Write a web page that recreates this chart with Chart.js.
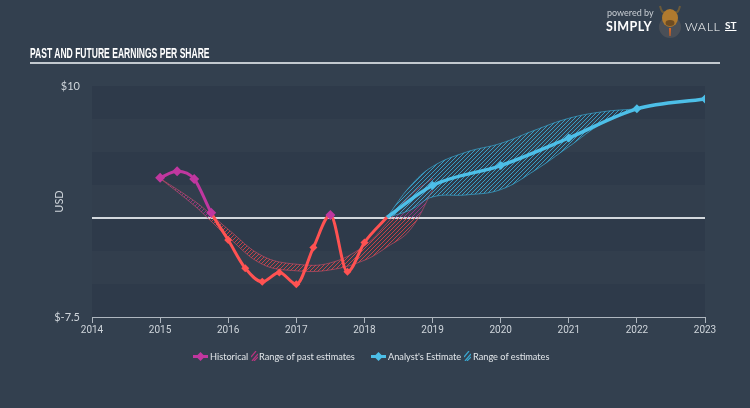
<!DOCTYPE html>
<html>
<head>
<meta charset="utf-8">
<script src="https://cdn.jsdelivr.net/npm/chart.js@4.4.1/dist/chart.umd.min.js"></script>
<style>
html, body { margin: 0; padding: 0; }
body { width: 750px; height: 408px; background: #33404f; position: relative; overflow: hidden; font-family: Lato, sans-serif; }
#chart { position: absolute; left: 0; top: 0; }
.title { position: absolute; left: 30px; top: 44px; font-family: "Liberation Sans Narrow", sans-serif; font-weight: bold; font-size: 15px; color: #fff; transform: scaleX(0.57); transform-origin: left top; white-space: nowrap; }
.rule { position: absolute; left: 30px; top: 62px; width: 690px; height: 2px; background: #c3c9cf; }
.logo { position: absolute; color: #fff; white-space: nowrap; }
.lg { position: absolute; top: 349px; height: 15px; line-height: 15px; font-size: 9.2px; color: #e2e6ea; white-space: nowrap; }
.lg svg { position: absolute; top: 2px; }
</style>
</head>
<body>
<canvas id="chart" width="750" height="408"></canvas>

<div class="title">PAST AND FUTURE EARNINGS PER SHARE</div>
<div class="rule"></div>

<div class="logo" style="left:607px;top:7px;font-size:9px;color:#c9ced4;">powered by</div>
<div class="logo" style="left:606px;top:19px;font-size:12.5px;font-weight:bold;letter-spacing:0.4px;">SIMPLY</div>
<svg class="logo" style="left:656px;top:2px" width="28" height="36" viewBox="0 0 28 36">
  <circle cx="14" cy="25" r="11" fill="#4a4f57"/>
  <path d="M4 4 Q6 12 9 10 M24 4 Q22 12 19 10" stroke="#6b5a3a" stroke-width="2" fill="none"/>
  <ellipse cx="14" cy="16" rx="8" ry="9" fill="#b07a2e"/>
  <ellipse cx="14" cy="21" rx="4.5" ry="3" fill="#6e4c22"/>
  <path d="M13 26 L15 26 L14.5 34 L13.5 34 Z" fill="#e0641e"/>
</svg>
<div class="logo" style="left:685px;top:19px;font-size:12.5px;font-weight:300;letter-spacing:0.6px;">WALL</div>
<div class="logo" style="left:725px;top:19px;font-size:10px;font-weight:bold;text-decoration:underline;">ST</div>

<div class="lg" style="left:193px;width:60px">
  <svg width="15" height="11" viewBox="0 0 15 11"><line x1="0" y1="5.5" x2="15" y2="5.5" stroke="#c0379f" stroke-width="3"/><polygon points="7.5,1 12,5.5 7.5,10 3,5.5" fill="#c0379f"/></svg>
  <span style="position:absolute;left:17px">Historical</span>
</div>
<div class="lg" style="left:251px;width:110px">
  <svg width="7" height="10" viewBox="0 0 7 10"><path d="M0 6 L5 0 M1 10 L7 3 M3 10 L7 6" stroke="#b8357f" stroke-width="1.2"/></svg>
  <span style="position:absolute;left:8px">Range of past estimates</span>
</div>
<div class="lg" style="left:371px;width:90px">
  <svg width="15" height="11" viewBox="0 0 15 11"><line x1="0" y1="5.5" x2="15" y2="5.5" stroke="#4dbfe8" stroke-width="3"/><polygon points="7.5,1 12,5.5 7.5,10 3,5.5" fill="#4dbfe8"/></svg>
  <span style="position:absolute;left:17px">Analyst's Estimate</span>
</div>
<div class="lg" style="left:464px;width:90px">
  <svg width="7" height="10" viewBox="0 0 7 10"><path d="M0 6 L5 0 M1 10 L7 3 M3 10 L7 6" stroke="#3aa6cf" stroke-width="1.2"/></svg>
  <span style="position:absolute;left:9px">Range of estimates</span>
</div>

<script>
// earnings per share, USD
var histYears = [2015, 2015.25, 2015.5, 2015.75, 2016, 2016.25, 2016.5, 2016.75, 2017, 2017.25, 2017.5, 2017.75, 2018, 2018.33];
var histEps = [3.04, 3.54, 2.96, 0.40, -1.67, -3.80, -4.83, -4.13, -5.01, -2.24, 0.22, -4.08, -1.86, 0.05];

var estYears = [2018.33, 2019, 2020, 2021, 2022, 2023];
var estEps = [0.05, 2.46, 3.97, 6.06, 8.27, 9.02];

var pastRangeYears = [2015, 2015.5, 2015.75, 2016, 2016.5, 2017, 2017.5, 2018, 2018.33, 2018.67, 2019];
var pastRangeHigh = [3.0, 1.3, 0.25, -0.86, -2.87, -3.5, -3.4, -2.1, -0.4, 1.7, 3.0];
var pastRangeLow = [3.0, 0.95, -0.25, -1.46, -3.5, -4.0, -3.93, -3.2, -2.2, -0.9, 2.1];

var estRangeYears = [2018.33, 2018.67, 2019, 2019.5, 2020, 2020.5, 2021, 2021.5, 2022];
var estRangeHigh = [0.05, 2.4, 3.9, 5.0, 5.65, 6.65, 7.55, 8.05, 8.27];
var estRangeLow = [0.05, 0.6, 1.6, 1.75, 2.15, 3.6, 5.4, 7.2, 8.27];

var MAGENTA = "#c0379f";
var RED = "#ff5252";
var BLUE = "#4dbfe8";
var TICK_COLOR = "#cfd5db";

function points(xs, ys) {
	return xs.map(function (x, i) { return { x: x, y: ys[i] }; });
}

var zeroPx = 218;
var pastPattern = null;
var pastPatternZero = null;

// hatch above zero is magenta, below zero red
function pastHatch() {
	if (pastPattern && pastPatternZero === zeroPx) return pastPattern;
	var c = document.createElement("canvas");
	c.width = 4;
	c.height = 408;
	var g = c.getContext("2d");
	for (var y = 0; y < c.height; y++) {
		g.fillStyle = y < zeroPx ? "rgba(176,52,150,0.75)" : "rgba(235,70,70,0.8)";
		for (var x = 0; x < 4; x++) {
			if ((x + y) % 4 === 0) g.fillRect(x, y, 1, 1);
		}
	}
	pastPattern = g.createPattern(c, "repeat");
	pastPatternZero = zeroPx;
	return pastPattern;
}

function blueHatch() {
	var c = document.createElement("canvas");
	c.width = 4;
	c.height = 4;
	var g = c.getContext("2d");
	g.fillStyle = "rgba(58,168,210,0.9)";
	for (var y = 0; y < 4; y++) {
		for (var x = 0; x < 4; x++) {
			if ((x + y) % 4 === 0) g.fillRect(x, y, 1, 1);
		}
	}
	return g.createPattern(c, "repeat");
}

var bandsPlugin = {
	id: "bands",
	afterLayout: function (chart) {
		zeroPx = chart.scales.y.getPixelForValue(0);
	},
	beforeDraw: function (chart) {
		var ctx = chart.ctx;
		var area = chart.chartArea;
		var y = chart.scales.y;
		ctx.save();
		for (var i = 0, v = 10; v > -7.5; v -= 2.5, i++) {
			var top = y.getPixelForValue(v);
			var bottom = y.getPixelForValue(v - 2.5);
			ctx.fillStyle = i % 2 === 0 ? "rgba(20,30,45,0.15)" : "rgba(20,30,45,0.04)";
			ctx.fillRect(area.left, top, area.right - area.left, bottom - top);
		}
		ctx.restore();
	}
};

var ctx = document.getElementById("chart").getContext("2d");
new Chart(ctx, {
	type: "line",
	data: {
		datasets: [
			{
				label: "Historical",
				data: points(histYears, histEps),
				borderColor: RED,
				borderWidth: 3,
				cubicInterpolationMode: "monotone",
				segment: {
					borderColor: function (c) {
						return c.p0.parsed.y >= 0 && c.p1.parsed.y >= 0 ? MAGENTA : RED;
					}
				},
				pointStyle: "rectRot",
				pointRadius: function (c) {
					if (c.dataIndex === histEps.length - 1) return 0;
					return c.parsed.y >= 0 ? 5 : 4;
				},
				pointBackgroundColor: function (c) {
					return c.parsed.y >= 0 ? MAGENTA : RED;
				},
				pointBorderWidth: 0,
				fill: false,
				order: 0
			},
			{
				label: "Analyst's Estimate",
				data: points(estYears, estEps),
				borderColor: BLUE,
				borderWidth: 3.5,
				cubicInterpolationMode: "monotone",
				pointStyle: "rectRot",
				pointRadius: function (c) { return c.dataIndex === 0 ? 0 : 4.5; },
				pointBackgroundColor: BLUE,
				pointBorderWidth: 0,
				fill: false,
				order: 0
			},
			{
				label: "Range of past estimates",
				data: points(pastRangeYears, pastRangeHigh),
				borderColor: "rgba(230,80,110,0.55)",
				borderWidth: 1,
				tension: 0.4,
				pointRadius: 0,
				backgroundColor: function () { return pastHatch(); },
				fill: "+1",
				order: 2
			},
			{
				label: "past low",
				data: points(pastRangeYears, pastRangeLow),
				borderColor: "rgba(230,80,110,0.55)",
				borderWidth: 1,
				tension: 0.4,
				pointRadius: 0,
				fill: false,
				order: 2
			},
			{
				label: "Range of estimates",
				data: points(estRangeYears, estRangeHigh),
				borderColor: "rgba(58,168,210,0.7)",
				borderWidth: 1,
				tension: 0.4,
				pointRadius: 0,
				backgroundColor: blueHatch(),
				fill: "+1",
				order: 1
			},
			{
				label: "est low",
				data: points(estRangeYears, estRangeLow),
				borderColor: "rgba(58,168,210,0.7)",
				borderWidth: 1,
				tension: 0.4,
				pointRadius: 0,
				fill: false,
				order: 1
			}
		]
	},
	options: {
		responsive: false,
		animation: false,
		layout: { padding: { left: 0, right: 45, top: 86, bottom: 61 } },
		plugins: {
			legend: { display: false },
			tooltip: { enabled: false }
		},
		scales: {
			x: {
				type: "linear",
				min: 2014,
				max: 2023,
				ticks: {
					stepSize: 1,
					color: TICK_COLOR,
					font: { family: "Roboto", size: 10 },
					padding: 1,
					maxRotation: 0,
					callback: function (v) { return String(v); }
				},
				grid: { drawOnChartArea: false, tickLength: 6, color: "#aeb6bf" },
				border: { display: true, color: "#aeb6bf", width: 1 },
				afterFit: function (s) { s.height = 30; }
			},
			y: {
				min: -7.5,
				max: 10,
				ticks: {
					stepSize: 2.5,
					color: TICK_COLOR,
					font: { family: "Lato", size: 11 },
					padding: 12,
					autoSkip: false,
					callback: function (v) {
						if (v === 10) return "$10";
						if (v === -7.5) return "$-7.5";
						return "";
					}
				},
				grid: {
					drawTicks: false,
					lineWidth: 2,
					color: function (c) {
						return c.tick && c.tick.value === 0 ? "#d3d8dd" : "rgba(0,0,0,0)";
					}
				},
				border: { display: false },
				title: {
					display: true,
					text: "USD",
					color: TICK_COLOR,
					font: { family: "Lato", size: 11 },
					padding: { top: 53, bottom: 0 }
				},
				afterFit: function (s) { s.width = 92; }
			}
		}
	},
	plugins: [bandsPlugin]
});
</script>
</body>
</html>
